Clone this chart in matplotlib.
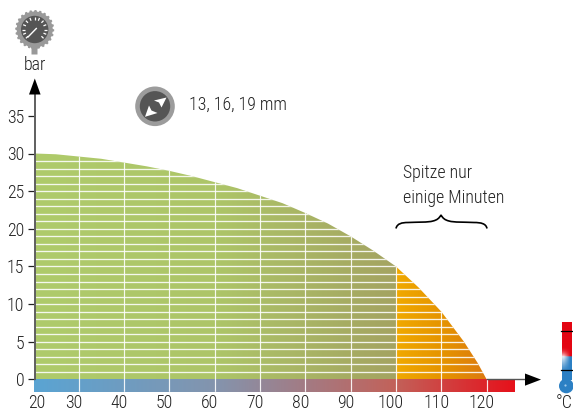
import numpy as np
import matplotlib
matplotlib.use("Agg")
import matplotlib.pyplot as plt
from matplotlib.colors import LinearSegmentedColormap, to_rgb
from matplotlib.patches import Polygon, Circle, PathPatch
from matplotlib.path import Path
from matplotlib.transforms import ScaledTranslation

plt.rcParams['font.family'] = ['Roboto Condensed', 'DejaVu Sans']
plt.rcParams['font.weight'] = 300

# ---- data ----
temp_c = [20, 25, 30, 35, 40, 45, 50, 55, 60, 65, 70, 75, 80, 85, 90, 95, 100, 105, 110, 115, 118, 120]
pressure_bar = [30, 29.9, 29.6, 29.3, 28.8, 28.3, 27.7, 27, 26.2, 25.4, 24.4, 23.4, 22.1, 20.7, 19, 17.1, 15, 12.2, 9, 5, 2.2, 0]
x_ticks = [20, 30, 40, 50, 60, 70, 80, 90, 100, 110, 120]
y_ticks = [0, 5, 10, 15, 20, 25, 30, 35]
peak_start = 100
axis_end = 126
size_text = "13, 16, 19 mm"
peak_text = "Spitze nur\neinige Minuten"

W, H = 573, 412
FS = 12.9
fig = plt.figure(figsize=(W / 100, H / 100), dpi=100, facecolor='white')

ppx, ppy = 4.535, 7.53
x0_px = 78.5 - (30 - 20) * ppx
x_right = 128.46
y_zero = 379.4
y_top = 37.77
y_bot = -1.65
left = x0_px / W
right = (78.5 + (x_right - 30) * ppx) / W
bottom = 1 - (y_zero - y_bot * ppy) / H
top = 1 - (y_zero - y_top * ppy) / H
ax = fig.add_axes([left, bottom, right - left, top - bottom])
ax.patch.set_alpha(0)

T = np.array(temp_c, float)
P = np.array(pressure_bar, float)
axis_x = 20.35
Tc = np.clip(T, axis_x, None)


def hgrad(x0, x1, y0, y1, stops, clip=None, z=1):
    cmap = LinearSegmentedColormap.from_list('g', stops)
    im = ax.imshow(np.linspace(0, 1, 512)[None, :], extent=(x0, x1, y0, y1),
                   cmap=cmap, aspect='auto', origin='lower', zorder=z, interpolation='bilinear')
    if clip is not None:
        im.set_clip_path(clip)
    return im


poly_xy = np.column_stack([np.r_[axis_x, Tc, axis_x], np.r_[0, P, 0]])
clip_poly = Polygon(poly_xy, closed=True, transform=ax.transData, fc='none', ec='none')
ax.add_patch(clip_poly)
hgrad(axis_x, peak_start, 0, 31, ['#AFCB6B', '#ADC568', '#A4A361'], clip_poly)
hgrad(peak_start, 121, 0, 31, ['#F0A900', '#E59300', '#DB7612'], clip_poly)
hgrad(axis_x - 0.2, axis_end, y_bot, 0,
      [(0, '#5AA4D3'), (0.38, '#8494AD'), (0.75, '#C2625A'), (1, '#E6111B')])

hl = ax.hlines(np.arange(1, 30), axis_x, 121, colors='white', linewidth=0.95, alpha=0.88, zorder=2)
hl.set_clip_path(clip_poly)
clip_all = Polygon(np.column_stack([np.r_[axis_x, Tc, axis_end, axis_end, axis_x],
                                    np.r_[y_bot, P, 0, y_bot, y_bot]]),
                   closed=True, transform=ax.transData, fc='none', ec='none')
ax.add_patch(clip_all)
vl = ax.vlines(x_ticks[1:], y_bot, 31, colors='white', linewidth=0.85, alpha=0.9, zorder=2)
vl.set_clip_path(clip_all)

ax.set_xlim(20, x_right)
ax.set_ylim(y_bot, y_top)

for s in ('top', 'right'):
    ax.spines[s].set_visible(False)
ax.spines['left'].set_position(('data', axis_x))
ax.spines['left'].set_bounds(0, y_top)
ax.spines['left'].set_color('#5f5f5f')
ax.spines['left'].set_linewidth(1.4)
ax.spines['left'].set_zorder(5)
ax.spines['bottom'].set_position(('data', 0))
ax.spines['bottom'].set_bounds(120, x_right)
ax.spines['bottom'].set_color('#555555')
ax.spines['bottom'].set_linewidth(1.0)
ax.spines['bottom'].set_zorder(5)

ax.set_yticks(y_ticks)
ax.set_xticks(x_ticks)
ax.tick_params(axis='y', length=5, width=0.9, color='#222222', labelsize=FS, labelcolor='#222222', pad=2.5)
ax.tick_params(axis='x', length=0, labelsize=FS, labelcolor='#222222', pad=10.3)
for t, lab in zip(x_ticks, ax.get_xticklabels()):
    dx = 4 if t == 20 else -5
    lab.set_transform(lab.get_transform() + ScaledTranslation(dx / 100, 0, fig.dpi_scale_trans))

# ---- overlay in pixel coordinates for arrows, icons and notes ----
ov = fig.add_axes([0, 0, 1, 1], zorder=10)
ov.set_xlim(0, W)
ov.set_ylim(H, 0)
ov.axis('off')
ov.patch.set_alpha(0)

ov.add_patch(Polygon([(34.8, 78.5), (29, 94.5), (40.6, 94.5)], fc='black', ec='none'))
ov.add_patch(Polygon([(541, 379.6), (525, 373.5), (525, 385.7)], fc='black', ec='none'))

txt = dict(color='#222222')
ov.text(34.5, 65, 'bar', ha='center', va='center', fontsize=FS, **txt)
ov.text(189, 105, size_text, ha='left', va='center', fontsize=FS, **txt)
ov.text(403, 185, peak_text, ha='left', va='center', fontsize=FS, linespacing=1.5, **txt)
ov.text(564, 402.5, '°C', ha='center', va='center', fontsize=FS, **txt)

brace = Path([(396, 228.5), (397, 223.5), (402, 222.5), (408, 222.5),
              (418, 222), (428, 222.5), (433, 221),
              (437, 220), (439, 218.5), (441, 215),
              (443, 218.5), (445, 220), (449, 221),
              (454, 222.5), (464, 222), (474, 222.5),
              (481, 222.5), (486, 223.5), (487, 228.5)],
             [Path.MOVETO] + [Path.CURVE4] * 18)
ov.add_patch(PathPatch(brace, fc='none', ec='black', lw=1.2))

# gauge icon
cx, cy = 34.7, 29.5
ang = np.linspace(0, 2 * np.pi, 144, endpoint=False)
rad = np.where(np.arange(144) % 6 < 3, 19.5, 18)
ov.add_patch(Polygon(np.column_stack([cx + rad * np.cos(ang), cy + rad * np.sin(ang)]), fc='#999999', ec='none'))
ov.add_patch(Polygon([(29, 44), (41, 44), (37.5, 49), (37.5, 54.5), (31.5, 54.5), (31.5, 49)], fc='#999999', ec='none'))
ov.add_patch(Circle((cx, cy), 13.7, fc='#555555', ec='none'))
for a in np.deg2rad(np.arange(-225, 46, 22.5)):
    ov.plot([cx + 9.5 * np.cos(a), cx + 12.5 * np.cos(a)], [cy + 9.5 * np.sin(a), cy + 12.5 * np.sin(a)],
            color='white', lw=0.9, solid_capstyle='butt')
ov.plot([28, 36.3], [37, 28.5], color='white', lw=1.0)

# lens icon
ov.add_patch(Circle((155, 106.3), 19.8, fc='#9c9c9c', ec='none'))
ov.add_patch(Circle((155, 106.3), 15.2, fc='#555555', ec='none'))
ov.add_patch(Polygon([(166.5, 97.5), (154, 100.5), (159, 102.5), (161.5, 107.5)], fc='white', ec='none'))
ov.add_patch(Polygon([(145, 116.8), (157.5, 113), (151.5, 110.5), (149, 105.5)], fc='white', ec='none'))

# thermometer icon
ny, nx = 120, 20
yy = np.linspace(0, 1, ny)[:, None]
xx = np.linspace(0, 1, nx)[None, :]
red = np.array(to_rgb('#E30613'))
blue = np.array(to_rgb('#2C80C4'))
split = 0.59
base = np.where(yy[..., None] < split, red, blue)
fade_r = np.clip((yy - 0.42) / (split - 0.42), 0, 1) ** 2 * 0.8
fade_b = np.clip(1 - (yy - split) / 0.28, 0, 1) ** 1.3 * 0.9
fade = np.where(yy < split, fade_r, fade_b) * np.clip(1.25 - xx * 1.5, 0, 1)
img = base * (1 - fade[..., None]) + fade[..., None]
ov.imshow(img, extent=(562, 571.5, 380, 322), aspect='auto', zorder=3)
ov.add_patch(Circle((566.3, 386), 7.3, fc='#2C80C4', ec='none', zorder=4))
ov.add_patch(Circle((565.5, 385.5), 1.1, fc='#9cc8ea', ec='none', zorder=5))
ov.plot([561, 572], [330.5, 330.5], color='black', lw=0.9, zorder=6)
ov.plot([561, 572], [370.3, 370.3], color='black', lw=0.9, zorder=6)
ov.set_xlim(0, W)
ov.set_ylim(H, 0)

fig.savefig('out.png', dpi=100)
